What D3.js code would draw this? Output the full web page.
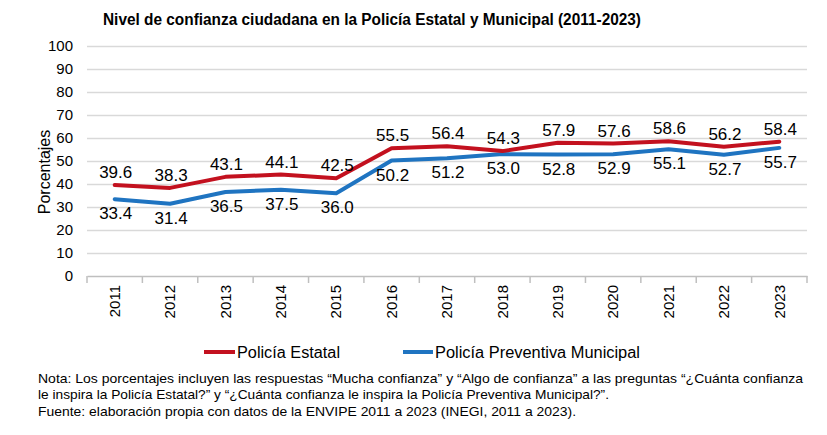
<!DOCTYPE html>
<html>
<head>
<meta charset="utf-8">
<script src="https://cdn.jsdelivr.net/npm/d3@7"></script>
<style>
  html, body { margin: 0; padding: 0; background: #fff; }
  svg { display: block; font-family: "Liberation Sans", Arial, sans-serif; }
</style>
</head>
<body>
<svg id="chart" width="827" height="435"></svg>
<script>
const years = ["2011","2012","2013","2014","2015","2016","2017","2018","2019","2020","2021","2022","2023"];
const estatal = [39.6, 38.3, 43.1, 44.1, 42.5, 55.5, 56.4, 54.3, 57.9, 57.6, 58.6, 56.2, 58.4];
const municipal = [33.4, 31.4, 36.5, 37.5, 36.0, 50.2, 51.2, 53.0, 52.8, 52.9, 55.1, 52.7, 55.7];
const yTicks = [0, 10, 20, 30, 40, 50, 60, 70, 80, 90, 100];
const seriesNames = ["Policía Estatal", "Policía Preventiva Municipal"];
const titleText = "Nivel de confianza ciudadana en la Policía Estatal y Municipal (2011-2023)";
const yLabel = "Porcentajes";
const notes = [
  "Nota: Los porcentajes incluyen las respuestas “Mucha confianza” y “Algo de confianza” a las preguntas “¿Cuánta confianza",
  "le inspira la Policía Estatal?” y “¿Cuánta confianza le inspira la Policía Preventiva Municipal?”.",
  "Fuente: elaboración propia con datos de la ENVIPE 2011 a 2023 (INEGI, 2011 a 2023)."
];

const RED = "#C3111F", BLUE = "#1F74C1";
const svg = d3.select("#chart");
const pLeft = 87, pRight = 807, pTop = 46, pBottom = 276;

const x = d3.scaleBand().domain(years).range([pLeft, pRight]).padding(0);
const y = d3.scaleLinear().domain([0, 100]).range([pBottom, pTop]);
const cx = d => x(d) + x.bandwidth() / 2;

// Title
svg.append("text").attr("x", 103).attr("y", 25)
  .attr("font-size", 16).attr("font-weight", "bold").attr("fill", "#000")
  .attr("textLength", 538).attr("lengthAdjust", "spacingAndGlyphs")
  .text(titleText);

// Y axis with gridlines
const yAxis = svg.append("g").attr("transform", `translate(${pLeft},0)`)
  .call(d3.axisLeft(y).tickValues(yTicks).tickSize(-(pRight - pLeft)).tickPadding(14).tickFormat(d3.format("d")));
yAxis.select(".domain").remove();
yAxis.selectAll(".tick line").attr("stroke", "#d9d9d9").attr("stroke-width", 1.5)
  .filter(d => d === 0).remove();
yAxis.selectAll(".tick text").attr("font-size", 15).attr("fill", "#000")
  .attr("font-family", "Liberation Sans, Arial, sans-serif");

// Y label
svg.append("text").attr("transform", "translate(50,172) rotate(-90)")
  .attr("text-anchor", "middle").attr("font-size", 16).attr("fill", "#000")
  .text(yLabel);

// X axis
const xAxis = svg.append("g").attr("transform", `translate(0,${pBottom})`)
  .call(d3.axisBottom(x).tickSize(0).tickPadding(0));
xAxis.select(".domain").attr("stroke", "#bfbfbf").attr("stroke-width", 1.5);
xAxis.selectAll(".tick text")
  .attr("font-size", 15).attr("fill", "#000")
  .attr("font-family", "Liberation Sans, Arial, sans-serif")
  .attr("text-anchor", "end")
  .attr("transform", "translate(0,9) rotate(-90)")
  .attr("dy", "0.35em").attr("y", 0).attr("x", 0);
// boundary ticks
const bounds = years.map(d => x(d)).concat([pRight]);
xAxis.selectAll("line.bound").data(bounds).enter().append("line")
  .attr("class", "bound").attr("x1", d => d).attr("x2", d => d)
  .attr("y1", 0).attr("y2", 7).attr("stroke", "#bfbfbf").attr("stroke-width", 1.5);

// Lines
const line = d3.line().x((d, i) => cx(years[i])).y(d => y(d));
svg.append("path").datum(municipal).attr("d", line)
  .attr("fill", "none").attr("stroke", BLUE).attr("stroke-width", 4)
  .attr("stroke-linejoin", "round").attr("stroke-linecap", "round");
svg.append("path").datum(estatal).attr("d", line)
  .attr("fill", "none").attr("stroke", RED).attr("stroke-width", 4)
  .attr("stroke-linejoin", "round").attr("stroke-linecap", "round");

// Data labels
svg.selectAll("text.lblE").data(estatal).enter().append("text")
  .attr("class", "lblE").attr("x", (d, i) => cx(years[i]) + 1).attr("y", d => y(d) - 7)
  .attr("text-anchor", "middle").attr("font-size", 17).attr("fill", "#000")
  .text(d => d.toFixed(1));
svg.selectAll("text.lblM").data(municipal).enter().append("text")
  .attr("class", "lblM").attr("x", (d, i) => cx(years[i]) + 1).attr("y", d => y(d) + 20)
  .attr("text-anchor", "middle").attr("font-size", 17).attr("fill", "#000")
  .text(d => d.toFixed(1));

// Legend
const legend = [
  { name: seriesNames[0], color: RED, x1: 204, x2: 235, tx: 237, tl: 103 },
  { name: seriesNames[1], color: BLUE, x1: 403, x2: 433, tx: 435, tl: 205 }
];
legend.forEach(l => {
  svg.append("line").attr("x1", l.x1).attr("x2", l.x2).attr("y1", 352).attr("y2", 352)
    .attr("stroke", l.color).attr("stroke-width", 4);
  svg.append("text").attr("x", l.tx).attr("y", 358).attr("font-size", 16).attr("fill", "#000")
    .attr("textLength", l.tl).attr("lengthAdjust", "spacingAndGlyphs").text(l.name);
});

// Notes
const noteLens = [765, 571, 538];
const noteY = [383, 399, 416];
notes.forEach((t, i) => {
  svg.append("text").attr("x", 38).attr("y", noteY[i]).attr("font-size", 13.5).attr("fill", "#000")
    .attr("textLength", noteLens[i]).attr("lengthAdjust", "spacingAndGlyphs").text(t);
});
</script>
</body>
</html>
